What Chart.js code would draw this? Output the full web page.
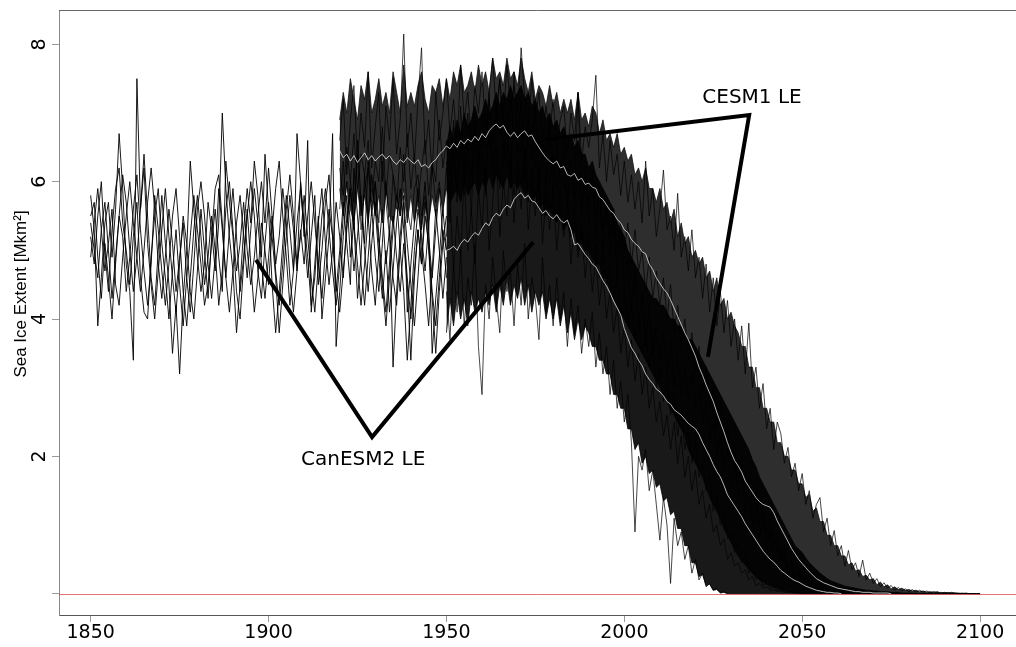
<!DOCTYPE html>
<html>
<head>
<meta charset="utf-8">
<title>Sea Ice Extent</title>
<script src="https://cdn.jsdelivr.net/npm/chart.js@4.4.1/dist/chart.umd.min.js"></script>
<style>
  html, body { margin: 0; padding: 0; background: #fff; }
  canvas { display: block; }
</style>
</head>
<body>
<canvas id="iceChart" width="1016" height="647"></canvas>
<script>
// first year of each group of runs
const histStart = 1850;
const cesmStart = 1920;
const canStart = 1950;

const xTicks = [1850, 1900, 1950, 2000, 2050, 2100];
const yTicks = [0, 2, 4, 6, 8];
const yTickLabels = ['', '2', '4', '6', '8'];

// CanESM2 historical runs, 1850-1950
const histRun1 = [
  5.8, 5.3, 3.9, 4.6, 5.4, 5.7, 4.9, 5.6, 6.7, 5.9,
  4.8, 4.4, 3.4, 7.5, 5.6, 6.4, 5.5, 4.6, 4.2, 5.0,
  5.8, 5.1, 4.5, 3.5, 4.2, 3.2, 4.3, 5.0, 6.3, 5.6,
  4.9, 4.4, 4.8, 5.7, 5.3, 4.7, 5.4, 7.0, 5.9, 5.2,
  4.7, 3.8, 4.5, 5.3, 5.9, 5.4, 6.3, 5.8, 4.9, 6.4,
  5.6, 4.5, 3.8, 4.4, 5.1, 5.8, 5.3, 4.7, 6.7, 6.0,
  5.2, 6.6, 4.1, 4.8, 5.5, 4.0, 4.6, 5.2, 6.7, 3.6,
  4.4, 5.2, 5.8, 4.9, 5.4, 4.3, 4.9, 6.1, 5.5, 4.7,
  4.2, 5.0, 5.6, 4.8, 5.3, 3.3, 4.4, 5.2, 5.8, 4.1,
  4.8, 5.4, 5.9, 5.0, 4.5, 3.9, 4.7, 5.6, 5.0, 4.3,
  4.9
];
const histRun2 = [
  5.5, 5.7, 4.9, 4.3, 5.1, 4.6, 4.0, 4.8, 5.5, 6.1,
  5.7, 5.0, 4.4, 4.9, 5.6, 6.2, 5.1, 4.5, 4.0, 4.7,
  5.3, 5.9, 5.2, 4.6, 4.1, 4.8, 5.5, 5.1, 4.4, 4.0,
  4.7, 5.6, 5.0, 4.3, 5.2, 5.9, 6.1, 5.4, 4.6, 5.3,
  5.9, 5.2, 4.4, 4.9, 5.6, 4.8, 4.1, 4.6, 5.4, 5.0,
  4.5, 5.3, 5.9, 6.3, 5.5, 4.9, 4.2, 4.7, 5.4, 5.9,
  5.3, 4.6, 5.2, 5.8, 4.5, 5.0, 5.7, 6.1, 5.2, 4.4,
  5.0, 5.7, 5.1, 4.5, 6.2, 5.5, 4.8, 4.2, 4.9, 5.6,
  6.0, 5.2, 4.6, 4.1, 4.8, 5.5, 4.9, 4.4, 5.1, 4.5,
  3.4, 4.6, 5.3, 4.8, 5.7, 5.0, 4.3, 3.5, 4.4, 5.1,
  5.5
];
const histRun3 = [
  5.2, 4.8, 5.5, 6.0, 5.0, 4.4, 5.3, 5.9, 6.2, 5.4,
  5.0, 4.5, 5.2, 5.7, 4.6, 4.1, 4.0, 4.9, 5.5, 5.9,
  5.1, 4.6, 4.0, 4.7, 5.3, 4.5, 3.9, 4.6, 5.2, 5.8,
  5.3, 4.8, 4.2, 4.5, 5.1, 5.6, 4.9, 4.4, 6.3, 5.7,
  5.2, 4.4, 4.0, 4.8, 5.5, 6.0, 5.5, 4.7, 4.3, 5.1,
  5.7, 5.2, 4.6, 3.8, 4.5, 5.2, 5.8, 5.3, 4.7, 6.0,
  5.4, 4.9, 4.2, 4.6, 5.4, 5.9, 5.1, 4.5, 5.0, 5.7,
  5.2, 4.6, 5.4, 5.9, 5.3, 6.6, 5.7, 5.0, 4.4, 5.1,
  5.7, 5.1, 4.5, 3.9, 4.6, 5.3, 5.8, 5.0, 4.4, 3.4,
  4.2, 5.0, 5.6, 5.2, 4.7, 5.4, 3.5, 4.3, 4.9, 5.6,
  5.0
];
const histRun4 = [
  4.9, 5.4, 5.9, 5.3, 4.7, 5.1, 5.6, 4.5, 4.2, 4.9,
  5.5, 6.0, 5.4, 4.9, 4.4, 5.0, 5.7, 6.2, 5.6, 4.8,
  4.3, 4.9, 5.6, 5.1, 4.4, 4.9, 5.4, 4.6, 4.1, 4.8,
  5.6, 6.0, 5.5, 4.8, 4.3, 4.9, 5.9, 5.3, 4.6, 4.1,
  4.7, 5.4, 5.8, 5.2, 4.6, 5.3, 5.9, 5.4, 4.8, 4.3,
  4.9, 5.5, 4.7, 4.2, 4.8, 5.6, 6.1, 5.5, 4.8, 5.2,
  5.8, 5.2, 4.6, 4.1, 4.8, 5.5, 5.9, 5.3, 4.7, 4.2,
  4.8, 5.5, 6.0, 5.4, 4.7, 5.2, 5.8, 5.1, 6.3, 5.6,
  4.9, 4.4, 5.1, 6.0, 5.3, 4.6, 4.2, 5.0, 5.7, 5.1,
  4.5, 3.9, 4.6, 5.4, 6.0, 5.2, 4.6, 5.3, 5.9, 5.2,
  4.6
];
const histRun5 = [
  5.4, 5.0, 4.6, 5.3, 5.7, 5.0, 4.3, 4.9, 5.5, 5.2,
  4.4, 4.9, 5.6, 6.1, 5.3, 4.7, 4.2, 4.8, 5.8, 5.3,
  4.7, 4.2, 4.8, 5.5, 5.9, 5.2, 4.4, 3.9, 4.6, 5.3,
  5.8, 5.2, 4.5, 4.9, 5.5, 5.0, 4.2, 4.7, 5.6, 6.0,
  5.3, 4.7, 5.1, 5.7, 5.0, 4.5, 4.9, 5.5, 6.0, 5.4,
  6.2, 5.5, 4.8, 5.2, 5.9, 5.4, 4.6, 4.1, 4.7, 5.3,
  4.8, 5.5, 6.0, 5.4, 4.8, 4.3, 5.0, 5.6, 5.2, 4.5,
  4.1, 4.7, 5.3, 5.9, 5.4, 4.8, 4.2, 4.8, 5.5, 6.1,
  5.6, 4.9, 4.3, 5.0, 4.1, 4.7, 5.4, 5.9, 5.3, 4.6,
  4.0, 4.7, 5.3, 4.8, 5.5, 5.1, 4.4, 3.9, 4.6, 5.3,
  5.0
];

// CESM1 LE spread, upper and lower edge, 1920-2100
const cesmHigh = [
  6.9, 7.3, 7.0, 7.5, 7.2, 6.9, 7.4, 7.2, 7.6, 7.0,
  7.2, 7.5, 7.1, 7.3, 7.0, 7.6, 7.3, 7.0, 7.7, 7.1,
  7.3, 7.1, 7.4, 7.6, 7.2, 7.0, 7.4, 7.3, 7.5, 7.1,
  7.5, 7.2, 7.6, 7.4, 7.7, 7.3, 7.4, 7.6, 7.3, 7.7,
  7.4, 7.6, 7.3, 7.8, 7.5, 7.6, 7.4, 7.8, 7.5, 7.6,
  7.4, 7.8, 7.5, 7.3, 7.6, 7.2, 7.4, 7.3, 7.1, 7.4,
  7.1, 7.3, 7.0, 7.2, 7.0, 7.2, 6.9, 7.3, 6.9, 7.0,
  6.8, 7.1, 7.0, 6.7, 6.9, 6.6, 6.7, 6.5, 6.7, 6.4,
  6.5, 6.3, 6.4, 6.1, 6.2, 6.0, 6.2, 5.9, 5.9, 5.7,
  5.9, 5.6, 5.7, 5.4, 5.6, 5.2, 5.4, 5.1, 5.2, 4.9,
  5.0, 4.8, 4.9, 4.6, 4.7, 4.4, 4.6, 4.2, 4.3, 4.0,
  4.1, 3.9, 3.8, 3.6, 3.6, 3.3, 3.3, 3.0, 3.0, 2.7,
  2.7, 2.5, 2.5, 2.2, 2.2, 2.0, 2.0, 1.8, 1.8, 1.6,
  1.6, 1.4, 1.45, 1.2, 1.25, 1.05, 1.05, 0.85, 0.85, 0.7,
  0.7, 0.55, 0.55, 0.42, 0.45, 0.33, 0.35, 0.25, 0.27, 0.2,
  0.22, 0.13, 0.17, 0.1, 0.13, 0.07, 0.1, 0.06, 0.08, 0.05,
  0.06, 0.04, 0.05, 0.03, 0.04, 0.02, 0.03, 0.02, 0.03, 0.01,
  0.02, 0.01, 0.02, 0.01, 0.01, 0, 0.01, 0, 0, 0, 0
];
const cesmLow = [
  5.9, 5.5, 6.0, 5.6, 5.4, 5.9, 5.5, 5.8, 5.4, 5.9,
  5.5, 5.8, 5.4, 5.9, 5.5, 5.4, 5.8, 5.5, 5.9, 5.4,
  5.8, 5.4, 5.7, 5.3, 5.7, 5.4, 5.8, 5.5, 5.9, 5.6,
  5.9, 5.7, 5.8, 5.9, 5.7, 6.0, 5.8, 5.9, 6.0, 5.8,
  6.0, 5.9, 6.1, 5.9, 6.1, 6.0, 5.9, 6.1, 5.9, 6.0,
  5.9, 6.0, 5.8, 5.9, 5.7, 5.8, 5.6, 5.7, 5.5, 5.6,
  5.5, 5.4, 5.5, 5.3, 5.4, 5.2, 5.3, 5.1, 5.1, 5.0,
  5.0, 4.9, 4.8, 4.8, 4.6, 4.6, 4.4, 4.3, 4.2, 4.1,
  4.0, 3.9, 3.8, 3.7, 3.6, 3.5, 3.4, 3.3, 3.2, 3.1,
  3.0, 2.9, 2.8, 2.7, 2.6, 2.5, 2.4, 2.3, 2.1, 2.0,
  1.9, 1.8, 1.7, 1.55, 1.4, 1.3, 1.2, 1.1, 0.95, 0.85,
  0.75, 0.65, 0.55, 0.48, 0.42, 0.36, 0.3, 0.25, 0.2, 0.17,
  0.14, 0.12, 0.1, 0.08, 0.06, 0.05, 0.04, 0.03, 0.02, 0.01,
  0, 0, 0, 0, 0, 0, 0, 0, 0, 0,
  0, 0, 0, 0, 0, 0, 0, 0, 0, 0,
  0, 0, 0, 0, 0, 0, 0, 0, 0, 0,
  0, 0, 0, 0, 0, 0, 0, 0, 0, 0,
  0, 0, 0, 0, 0, 0, 0, 0, 0, 0, 0
];

// CanESM2 LE spread, upper and lower edge, 1950-2100
const canHigh = [
  6.5, 6.8, 6.6, 6.9, 6.7, 7.0, 6.8, 6.9, 7.1, 6.9,
  7.0, 7.2, 7.0, 7.1, 7.3, 7.1, 7.3, 7.2, 7.4, 7.2,
  7.3, 7.4, 7.2, 7.3, 7.1, 7.2, 7.0, 7.1, 6.9, 7.0,
  6.8, 6.9, 6.7, 6.8, 6.6, 6.7, 6.5, 6.6, 6.4, 6.4,
  6.2, 6.3, 6.1, 6.0, 5.9, 5.8, 5.7, 5.6, 5.4, 5.3,
  5.2, 5.0, 4.9, 4.8, 4.7, 4.6, 4.5, 4.4, 4.3, 4.3,
  4.2, 4.2, 4.1, 4.0, 4.0, 3.9, 3.9, 3.8, 3.7, 3.7,
  3.6, 3.5, 3.4, 3.3, 3.2, 3.1, 3.0, 2.9, 2.8, 2.7,
  2.6, 2.5, 2.4, 2.3, 2.2, 2.1, 1.95, 1.85, 1.7, 1.6,
  1.5, 1.4, 1.3, 1.2, 1.1, 1.0, 0.9, 0.8, 0.7, 0.65,
  0.6, 0.52, 0.45, 0.4, 0.35, 0.3, 0.26, 0.22, 0.19, 0.17,
  0.15, 0.13, 0.11, 0.1, 0.09, 0.08, 0.07, 0.06, 0.05, 0.05,
  0.04, 0.04, 0.03, 0.03, 0.03, 0.02, 0.02, 0.02, 0.01, 0.01,
  0.01, 0.01, 0, 0, 0, 0, 0, 0, 0, 0,
  0, 0, 0, 0, 0, 0, 0, 0, 0, 0, 0
];
const canLow = [
  3.8, 4.3, 3.9, 4.4, 4.0, 4.3, 3.9, 4.4, 4.1, 4.3,
  4.1, 4.4, 4.2, 4.5, 4.1, 4.5, 4.2, 4.6, 4.2, 4.5,
  4.3, 4.6, 4.2, 4.5, 4.1, 4.4, 4.2, 4.4, 4.0, 4.3,
  4.0, 4.3, 3.9, 4.2, 3.8, 4.1, 3.7, 4.0, 3.7, 3.9,
  3.8, 3.6, 3.6, 3.4, 3.4, 3.2, 3.2, 2.9, 2.9, 2.7,
  2.7, 2.4, 2.4, 2.1, 2.2, 1.9, 2.0, 1.75, 1.8, 1.55,
  1.6, 1.35, 1.4, 1.15, 1.2, 0.95, 0.95, 0.7, 0.7, 0.45,
  0.45, 0.25, 0.28, 0.12, 0.14, 0.05, 0.06, 0.01, 0.02, 0,
  0, 0, 0, 0, 0, 0, 0, 0, 0, 0,
  0, 0, 0, 0, 0, 0, 0, 0, 0, 0,
  0, 0, 0, 0, 0, 0, 0, 0, 0, 0,
  0, 0, 0, 0, 0, 0, 0, 0, 0, 0,
  0, 0, 0, 0, 0, 0, 0, 0, 0, 0,
  0, 0, 0, 0, 0, 0, 0, 0, 0, 0,
  0, 0, 0, 0, 0, 0, 0, 0, 0, 0, 0
];

// single CESM1 members, 1920 onwards
const cesmRunA = [
  6.6, 7.2, 6.1, 6.9, 7.4, 6.3, 7.0, 6.5, 7.6, 6.2,
  6.8, 7.3, 6.0, 7.1, 6.6, 7.5, 6.4, 6.9, 8.15, 6.5,
  7.0, 6.3, 7.2, 7.95, 6.4, 6.9, 6.1, 7.3, 6.6, 7.0,
  7.5, 6.7, 7.2, 6.5, 7.7, 6.9, 7.3, 6.6, 7.4, 7.0,
  7.6, 6.8, 7.3, 7.8, 7.0, 7.5, 6.9, 7.7, 7.1, 7.4,
  7.0, 7.95, 7.2, 6.8, 7.5, 6.9, 7.3, 6.6, 7.1, 6.7,
  7.2, 6.5, 6.9, 7.1, 6.4, 7.0, 6.6, 7.3, 6.3, 6.8,
  6.5, 6.9, 7.55, 6.2, 6.7, 6.0, 6.6, 6.1, 6.4, 5.8,
  6.3, 5.7, 6.1, 5.6, 6.0, 5.4, 6.3, 5.5, 5.9, 5.2,
  5.6, 6.17, 5.3, 5.5, 5.0, 5.83, 4.9, 5.2, 4.7, 5.3,
  4.6, 4.9, 4.3, 4.8, 4.1, 4.6, 3.9, 4.4, 3.8, 4.27,
  3.6, 4.0, 3.4, 3.9, 3.2, 3.94, 3.0, 3.3, 2.7, 3.06,
  2.4, 2.7, 2.1, 2.5, 2.33, 1.9, 2.13, 1.7, 1.9, 1.5,
  1.75, 1.3, 1.5, 1.1, 1.3, 1.4, 0.9, 1.1, 0.7, 0.92,
  0.55, 0.7, 0.4, 0.63, 0.35, 0.45, 0.25, 0.49, 0.2, 0.3,
  0.15, 0.22, 0.1, 0.16, 0.08, 0.12, 0.05, 0.09, 0.04, 0.07,
  0.03, 0.06, 0.02, 0.05, 0.02, 0.04, 0.01, 0.03, 0.01, 0.02,
  0.01, 0.02, 0, 0.01, 0, 0.01, 0
];
const cesmRunB = [
  6.2, 5.8, 6.5, 6.0, 6.7, 5.9, 6.4, 6.1, 6.6, 5.7,
  6.3, 6.0, 6.8, 5.8, 6.4, 6.1, 5.6, 6.5, 6.0, 6.7,
  5.9, 6.4, 5.7, 6.2, 6.6, 5.8, 6.3, 6.0, 6.9, 6.2,
  6.6, 6.1, 6.9, 6.3, 6.7, 6.2, 7.0, 6.4, 6.8, 6.3,
  7.0, 6.5, 7.2, 6.6, 7.1, 6.7, 6.9, 6.4, 7.2, 6.6,
  6.9, 6.4, 7.0, 6.5, 6.8, 6.2, 6.7, 6.3, 6.5, 6.0,
  6.4, 5.9, 6.3, 6.0, 5.8, 6.2, 5.7, 6.1, 5.6, 5.9,
  5.7, 6.1, 5.5, 5.9, 5.3, 5.7, 5.2, 5.6, 5.0, 5.4,
  5.0, 5.4, 4.8, 5.3, 4.7, 5.0, 4.4, 4.9, 4.3, 4.7,
  4.2, 4.6, 4.0, 4.5, 3.8, 4.2, 3.6, 4.0, 3.4, 3.8,
  3.2, 3.6, 2.9, 3.3, 2.7, 3.0, 2.4, 2.8, 2.2, 2.5,
  1.9, 2.2, 1.6, 2.0, 1.4, 1.7, 1.2, 1.5, 1.0, 1.3,
  0.9, 1.1, 0.7, 0.9, 0.5, 0.7, 0.35, 0.5, 0.25, 0.35,
  0.15, 0.25, 0.1, 0.15, 0.05, 0.1, 0.03, 0.06, 0.02, 0.04,
  0.01, 0.03, 0.01, 0.02, 0, 0.01, 0
];
const cesmRunC = [
  5.6, 6.3, 5.4, 6.0, 5.7, 6.4, 5.3, 5.9, 6.2, 5.5,
  6.0, 5.4, 6.3, 5.7, 5.2, 6.1, 5.8, 5.5, 6.4, 5.6,
  5.3, 5.9, 6.1, 5.5, 5.8, 5.3, 6.2, 5.7, 6.0, 5.5,
  6.2, 5.7, 6.4, 5.9, 6.5, 5.8, 6.3, 6.1, 6.6, 5.9,
  6.4, 6.0, 6.7, 6.2, 6.5, 5.9, 6.6, 6.2, 6.4, 5.8,
  6.3, 5.9, 6.5, 5.7, 6.2, 5.8, 6.0, 5.5, 6.1, 5.6,
  5.8, 5.4, 5.9, 5.3, 5.7, 5.2, 5.6, 5.0, 5.4, 4.9,
  5.3, 4.8, 5.1, 4.6, 5.0, 4.5, 4.8, 4.3, 4.6, 4.0,
  4.4, 3.9, 4.2, 3.7, 4.0, 3.5, 3.8, 3.3, 3.6, 3.0,
  3.3, 2.8, 3.1, 2.6, 2.9, 2.3, 2.7, 2.1, 2.4, 1.9,
  2.2, 1.7, 1.9, 1.5, 1.7, 1.2, 1.4, 1.0, 1.2, 0.8,
  0.9, 0.6, 0.75, 0.45, 0.55, 0.3, 0.4, 0.2, 0.25, 0.12,
  0.15, 0.08, 0.1, 0.05, 0.06, 0.03, 0.04, 0.02, 0.02, 0.01,
  0
];

// single CanESM2 members, 1950 onwards
const canRunA = [
  6.3, 5.4, 6.8, 5.7, 7.1, 6.0, 6.6, 5.5, 7.0, 6.2,
  6.7, 5.8, 7.3, 6.1, 6.9, 7.5, 6.2, 7.0, 5.9, 7.6,
  6.4, 7.2, 6.0, 6.9, 6.3, 7.1, 5.8, 6.6, 6.1, 6.8,
  5.9, 6.5, 6.0, 6.7, 5.6, 6.3, 5.8, 7.3, 5.5, 6.1,
  5.4, 6.2, 5.2, 5.9, 5.0, 5.7, 4.9, 5.5, 4.6, 5.2,
  4.5, 4.9, 4.1, 4.7, 3.9, 4.4, 3.6, 4.2, 3.5, 3.9,
  3.4, 3.8, 3.2, 3.7, 3.0, 3.5, 2.9, 3.3, 2.8, 3.2,
  2.7, 3.0, 2.5, 2.8, 2.2, 2.6, 2.0, 2.3, 1.8, 2.1,
  1.6, 1.9, 1.4, 1.7, 1.2, 1.5, 1.0, 1.3, 0.8, 1.1,
  0.7, 0.9, 0.5, 0.7, 0.4, 0.55, 0.3, 0.4, 0.2, 0.3,
  0.15, 0.22, 0.1, 0.15, 0.06, 0.1, 0.04, 0.06, 0.02, 0.04,
  0.01, 0.02, 0
];
const canRunB = [
  4.4, 3.7, 4.8, 4.1, 5.0, 3.9, 4.6, 4.2, 5.1, 3.6,
  2.9, 4.5, 4.0, 4.9, 4.3, 3.8, 5.0, 4.4, 4.7, 3.9,
  4.8, 4.2, 5.1, 4.0, 4.6, 4.3, 3.7, 4.9, 4.1, 4.5,
  3.9, 4.6, 4.0, 4.4, 3.6, 4.3, 3.8, 4.2, 3.5, 4.0,
  3.6, 4.1, 3.3, 3.8, 3.2, 3.6, 2.9, 3.4, 2.7, 3.1,
  2.5, 2.9, 2.2, 0.9, 2.0, 1.8, 2.1, 1.5, 1.8, 1.3,
  0.78, 1.4, 1.0, 0.15, 1.1, 0.7, 0.9, 0.5, 0.7, 0.3,
  0.5, 0.2, 0.3, 0.1, 0.15, 0.05, 0.08, 0.02, 0.03, 0
];
const canRunC = [
  5.2, 5.8, 4.7, 5.5, 4.9, 6.1, 5.0, 5.6, 4.8, 5.9,
  5.3, 6.2, 5.0, 5.7, 6.4, 5.2, 6.0, 5.5, 6.3, 5.4,
  6.1, 5.6, 6.5, 5.3, 6.0, 5.5, 6.2, 5.1, 5.8, 5.3,
  5.9, 5.0, 5.6, 5.2, 5.8, 4.8, 5.4, 4.9, 5.3, 4.6,
  5.1, 4.4, 4.9, 4.2, 4.7, 4.0, 4.4, 3.8, 4.2, 3.5,
  3.9, 3.3, 3.7, 3.1, 3.5, 2.9, 3.3, 2.7, 3.0, 2.5,
  2.8, 2.3, 2.6, 2.1, 2.5, 1.9, 2.3, 1.7, 2.0, 1.5,
  1.8, 1.3, 1.5, 1.1, 1.3, 0.9, 1.0, 0.7, 0.8, 0.5,
  0.6, 0.4, 0.45, 0.3, 0.35, 0.2, 0.25, 0.12, 0.15, 0.08,
  0.1, 0.05, 0.06, 0.03, 0.04, 0.02, 0.02, 0.01, 0.01, 0
];

// ensemble means
const cesmMean = [
  6.45, 6.35, 6.40, 6.30, 6.38, 6.28, 6.35, 6.42, 6.32, 6.38,
  6.30, 6.36, 6.40, 6.33, 6.38, 6.30, 6.25, 6.32, 6.28, 6.35,
  6.30, 6.26, 6.32, 6.22, 6.25, 6.20, 6.28, 6.32, 6.40, 6.45,
  6.52, 6.48, 6.56, 6.50, 6.60, 6.55, 6.62, 6.58, 6.66, 6.60,
  6.70, 6.64, 6.74, 6.80, 6.84, 6.78, 6.82, 6.72, 6.66, 6.72,
  6.64, 6.70, 6.74, 6.66, 6.68, 6.58, 6.50, 6.42, 6.35, 6.30,
  6.26, 6.30, 6.20, 6.22, 6.10, 6.08, 6.12, 6.02, 6.05, 5.96,
  5.98, 5.92, 5.90, 5.78, 5.74, 5.66, 5.58, 5.54, 5.45, 5.40,
  5.30, 5.26, 5.16, 5.10, 5.06, 4.98, 4.95, 4.80, 4.72, 4.60,
  4.52, 4.44, 4.38, 4.28, 4.16, 4.04, 3.92, 3.80, 3.70, 3.58,
  3.46, 3.30, 3.18, 3.04, 2.92, 2.80, 2.64, 2.50, 2.36, 2.20,
  2.06, 1.94, 1.86, 1.77, 1.64, 1.56, 1.48, 1.40, 1.34, 1.30,
  1.28, 1.26, 1.18, 1.06, 0.96, 0.86, 0.76, 0.66, 0.58, 0.50,
  0.44, 0.38, 0.32, 0.27, 0.22, 0.19, 0.16, 0.14, 0.12, 0.10,
  0.08, 0.07, 0.06, 0.05, 0.04, 0.03, 0.03, 0.02, 0.02, 0.02,
  0.01, 0.01, 0.01, 0.01, 0.01, 0
];
const canMean = [
  5.00, 5.02, 5.06, 5.00, 5.10, 5.16, 5.12, 5.20, 5.26, 5.22,
  5.32, 5.40, 5.36, 5.48, 5.54, 5.50, 5.60, 5.66, 5.62, 5.74,
  5.80, 5.84, 5.76, 5.80, 5.72, 5.70, 5.62, 5.54, 5.58, 5.50,
  5.46, 5.52, 5.44, 5.40, 5.44, 5.30, 5.08, 5.10, 5.02, 4.94,
  4.88, 4.80, 4.76, 4.66, 4.56, 4.48, 4.38, 4.26, 4.16, 4.06,
  3.86, 3.72, 3.58, 3.50, 3.40, 3.32, 3.20, 3.12, 3.06, 2.98,
  2.94, 2.88, 2.80, 2.76, 2.68, 2.64, 2.60, 2.54, 2.48, 2.44,
  2.40, 2.32, 2.20, 2.10, 2.00, 1.88, 1.78, 1.70, 1.58, 1.44,
  1.36, 1.28, 1.20, 1.12, 1.02, 0.94, 0.86, 0.78, 0.70, 0.62,
  0.56, 0.50, 0.46, 0.40, 0.34, 0.30, 0.26, 0.22, 0.19, 0.17,
  0.14, 0.11, 0.09, 0.07, 0.05, 0.04, 0.03, 0.02, 0.02, 0.01,
  0.01, 0
];

// pointer lines and their labels, in (year, extent)
const cesmPointer = [[1977.7, 6.61], [2035.1, 6.97], [2023.5, 3.45]];
const canPointer = [[1896.5, 4.86], [1929.1, 2.28], [1974.4, 5.12]];
const ensembleLabels = [
  { text: 'CESM1 LE', x: 2035.9, y: 7.22 },
  { text: 'CanESM2 LE', x: 1926.6, y: 1.95 }
];

function series(start, values) {
  return values.map((v, i) => ({ x: start + i, y: v }));
}

function run(start, values, order, width) {
  return {
    data: series(start, values),
    borderColor: 'rgba(0,0,0,0.9)',
    borderWidth: width,
    pointRadius: 0,
    fill: false,
    order: order
  };
}

const datasets = [
  // CESM1 spread
  { data: series(cesmStart, cesmHigh), borderColor: '#111', borderWidth: 0.8, pointRadius: 0, fill: false, order: 6 },
  { data: series(cesmStart, cesmLow), borderColor: '#111', borderWidth: 0.8, pointRadius: 0,
    fill: '-1', backgroundColor: 'rgba(0,0,0,0.82)', order: 6 },
  // CanESM2 spread
  { data: series(canStart, canHigh), borderColor: '#000', borderWidth: 0.8, pointRadius: 0, fill: false, order: 5 },
  { data: series(canStart, canLow), borderColor: '#000', borderWidth: 0.8, pointRadius: 0,
    fill: '-1', backgroundColor: 'rgba(0,0,0,0.9)', order: 5 },
  run(histStart, histRun1, 3, 1),
  run(histStart, histRun2, 3, 1),
  run(histStart, histRun3, 3, 1),
  run(histStart, histRun4, 3, 1),
  run(histStart, histRun5, 3, 1),
  run(cesmStart, cesmRunA, 2, 0.8),
  run(cesmStart, cesmRunB, 2, 0.8),
  run(cesmStart, cesmRunC, 2, 0.8),
  run(canStart, canRunA, 2, 0.8),
  run(canStart, canRunB, 2, 0.8),
  run(canStart, canRunC, 2, 0.8),
  { data: series(cesmStart, cesmMean), borderColor: 'rgba(255,255,255,0.7)', borderWidth: 1, pointRadius: 0, fill: false, order: 1 },
  { data: series(canStart, canMean), borderColor: 'rgba(255,255,255,0.7)', borderWidth: 1, pointRadius: 0, fill: false, order: 1 }
];

const overlay = {
  id: 'overlay',
  afterDatasetsDraw(chart) {
    const { ctx, chartArea: a, scales: { x, y } } = chart;
    ctx.save();
    ctx.beginPath();
    ctx.rect(a.left, a.top, a.right - a.left, a.bottom - a.top);
    ctx.clip();

    // zero line
    const y0 = Math.round(y.getPixelForValue(0)) + 0.5;
    ctx.strokeStyle = 'rgba(214,70,70,0.75)';
    ctx.lineWidth = 1;
    ctx.beginPath();
    ctx.moveTo(a.left, y0);
    ctx.lineTo(a.right, y0);
    ctx.stroke();

    // pointers
    ctx.strokeStyle = '#000';
    ctx.lineWidth = 4;
    ctx.lineJoin = 'miter';
    [cesmPointer, canPointer].forEach(pts => {
      ctx.beginPath();
      pts.forEach(([px, py], i) => {
        const X = x.getPixelForValue(px);
        const Y = y.getPixelForValue(py);
        if (i === 0) ctx.moveTo(X, Y); else ctx.lineTo(X, Y);
      });
      ctx.stroke();
    });

    ctx.fillStyle = '#000';
    ctx.font = '20px "DejaVu Sans"';
    ctx.textAlign = 'center';
    ctx.textBaseline = 'middle';
    ensembleLabels.forEach(l => {
      ctx.fillText(l.text, x.getPixelForValue(l.x), y.getPixelForValue(l.y));
    });
    ctx.restore();
  },
  afterDraw(chart) {
    const { ctx, chartArea: a, scales: { y } } = chart;
    ctx.save();
    // top edge of the box
    ctx.strokeStyle = '#666';
    ctx.lineWidth = 1;
    ctx.beginPath();
    ctx.moveTo(a.left, a.top + 0.5);
    ctx.lineTo(a.right, a.top + 0.5);
    ctx.stroke();

    // y tick labels, turned like the axis title
    ctx.fillStyle = '#000';
    ctx.font = '19px "DejaVu Sans"';
    ctx.textAlign = 'center';
    ctx.textBaseline = 'middle';
    yTicks.forEach((v, i) => {
      ctx.save();
      ctx.translate(40, y.getPixelForValue(v));
      ctx.rotate(-Math.PI / 2);
      ctx.fillText(yTickLabels[i], 0, 0);
      ctx.restore();
    });

    ctx.font = '17px "Liberation Sans"';
    ctx.translate(21, 294);
    ctx.rotate(-Math.PI / 2);
    ctx.fillText('Sea Ice Extent [Mkm²]', 0, 0);
    ctx.restore();
  }
};

new Chart(document.getElementById('iceChart'), {
  type: 'line',
  data: { datasets: datasets },
  plugins: [overlay],
  options: {
    responsive: false,
    animation: false,
    events: [],
    layout: { padding: { top: 10, left: 0, right: 0, bottom: 0 } },
    plugins: {
      legend: { display: false },
      tooltip: { enabled: false },
      filler: { propagate: false }
    },
    elements: { line: { tension: 0 } },
    scales: {
      x: {
        type: 'linear',
        min: 1841.1,
        max: 2110.1,
        afterBuildTicks: s => { s.ticks = xTicks.map(v => ({ value: v })); },
        afterFit: s => { s.height = 32; },
        grid: { drawOnChartArea: false, drawTicks: true, tickLength: 7, color: '#999' },
        border: { display: true, color: '#555', width: 1 },
        ticks: {
          color: '#000',
          font: { family: 'DejaVu Sans', size: 19 },
          padding: 0,
          maxRotation: 0,
          autoSkip: false,
          callback: v => String(v)
        }
      },
      y: {
        type: 'linear',
        min: -0.31,
        max: 8.5,
        afterBuildTicks: s => { s.ticks = yTicks.map(v => ({ value: v })); },
        afterFit: s => { s.width = 59; },
        grid: { drawOnChartArea: false, drawTicks: true, tickLength: 7, color: '#999' },
        border: { display: true, color: '#888', width: 1 },
        ticks: { display: false }
      }
    }
  }
});
</script>
</body>
</html>
